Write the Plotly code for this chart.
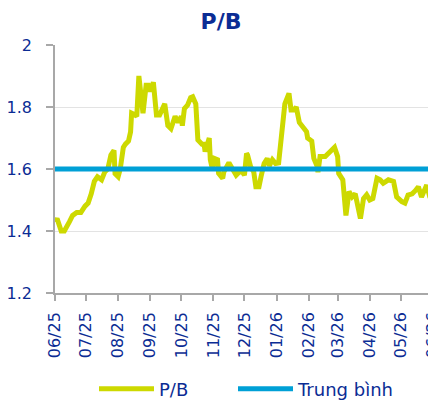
import plotly.graph_objects as go

dates = [
    "2025-06-01", "2025-06-03", "2025-06-07", "2025-06-10", "2025-06-15", "2025-06-18",
    "2025-06-22", "2025-06-26", "2025-06-30", "2025-07-03", "2025-07-06", "2025-07-09",
    "2025-07-12", "2025-07-16", "2025-07-19", "2025-07-22", "2025-07-25", "2025-07-28",
    "2025-07-29", "2025-08-01", "2025-08-03", "2025-08-06", "2025-08-08", "2025-08-11",
    "2025-08-13", "2025-08-14", "2025-08-17", "2025-08-19", "2025-08-21", "2025-08-22",
    "2025-08-25", "2025-08-28", "2025-08-30", "2025-09-01", "2025-09-04", "2025-09-07",
    "2025-09-10", "2025-09-15", "2025-09-18", "2025-09-21", "2025-09-25", "2025-09-28",
    "2025-10-01", "2025-10-02", "2025-10-04", "2025-10-07", "2025-10-10", "2025-10-12",
    "2025-10-15", "2025-10-17", "2025-10-21", "2025-10-23", "2025-10-24", "2025-10-28",
    "2025-10-29", "2025-10-31", "2025-11-02", "2025-11-05", "2025-11-06", "2025-11-10",
    "2025-11-11", "2025-11-16", "2025-11-19", "2025-11-23", "2025-11-26", "2025-11-29",
    "2025-12-01", "2025-12-03", "2025-12-04", "2025-12-07", "2025-12-10", "2025-12-12",
    "2025-12-15", "2025-12-17", "2025-12-20", "2025-12-23", "2025-12-25", "2025-12-28",
    "2025-12-31", "2026-01-03", "2026-01-07", "2026-01-09", "2026-01-13", "2026-01-15",
    "2026-01-18", "2026-01-20", "2026-01-23", "2026-01-26", "2026-01-30", "2026-01-31",
    "2026-02-04", "2026-02-06", "2026-02-09", "2026-02-10", "2026-02-12", "2026-02-17",
    "2026-02-22", "2026-02-26", "2026-03-01", "2026-03-02", "2026-03-06", "2026-03-09",
    "2026-03-12", "2026-03-15", "2026-03-18", "2026-03-23", "2026-03-26", "2026-03-29",
    "2026-04-01", "2026-04-04", "2026-04-08", "2026-04-11", "2026-04-14", "2026-04-19",
    "2026-04-24", "2026-04-27", "2026-05-02", "2026-05-05", "2026-05-08", "2026-05-12",
    "2026-05-15", "2026-05-18", "2026-05-21", "2026-05-26", "2026-05-29", "2026-06-02",
    "2026-06-04",
]

pb_values = [
    1.43, 1.44, 1.40, 1.40, 1.43, 1.45,
    1.46, 1.46, 1.48, 1.49, 1.52, 1.56,
    1.575, 1.565, 1.59, 1.60, 1.645, 1.66,
    1.585, 1.575, 1.60, 1.67, 1.68, 1.69,
    1.72, 1.78, 1.775, 1.77, 1.90, 1.86,
    1.78, 1.87, 1.87, 1.85, 1.88, 1.774,
    1.774, 1.81, 1.74, 1.73, 1.77, 1.75,
    1.77, 1.74, 1.795, 1.806, 1.83, 1.833,
    1.81, 1.694, 1.68, 1.68, 1.656, 1.70,
    1.63, 1.60, 1.634, 1.63, 1.586, 1.57,
    1.59, 1.62, 1.60, 1.58, 1.59, 1.59,
    1.58, 1.65, 1.645, 1.607, 1.59, 1.543,
    1.543, 1.575, 1.618, 1.634, 1.61, 1.63,
    1.618, 1.62, 1.75, 1.81, 1.844, 1.79,
    1.79, 1.80, 1.75, 1.737, 1.72, 1.70,
    1.69, 1.634, 1.61, 1.59, 1.64, 1.64,
    1.656, 1.67, 1.64, 1.586, 1.565, 1.45,
    1.527, 1.51, 1.52, 1.44, 1.505, 1.517,
    1.50, 1.505, 1.57, 1.565, 1.554, 1.565,
    1.56, 1.51, 1.495, 1.49, 1.516, 1.52,
    1.53, 1.543, 1.51, 1.548, 1.51, 1.49,
    1.485,
]

average_value = 1.6
avg_values = [average_value] * len(dates)

x_range = ["2025-06-01", "2026-06-04"]
tick_dates = [
    "2025-06-01", "2025-07-01", "2025-08-01", "2025-09-01", "2025-10-01", "2025-11-01",
    "2025-12-01", "2026-01-01", "2026-02-01", "2026-03-01", "2026-04-01", "2026-05-01",
    "2026-06-01",
]
tick_labels = ["06/25", "07/25", "08/25", "09/25", "10/25", "11/25",
               "12/25", "01/26", "02/26", "03/26", "04/26", "05/26", "06/26"]
y_ticks = [1.2, 1.4, 1.6, 1.8, 2.0]
y_tick_labels = ["1.2", "1.4", "1.6", "1.8", "2"]

TEXT = "#0b2c94"
YELLOW = "#cdd900"
BLUE = "#00a0d6"
FONT = "DejaVu Sans"

W, H = 428, 393

fig = go.Figure()
fig.add_trace(go.Scatter(
    x=dates, y=pb_values, mode="lines", name="P/B",
    line=dict(color=YELLOW, width=5), legend="legend",
))
fig.add_trace(go.Scatter(
    x=dates, y=avg_values, mode="lines", name="Trung bình",
    line=dict(color=BLUE, width=5), legend="legend2",
))

legend_common = dict(orientation="h", xref="container", yref="container",
                     xanchor="left", y=1 - 381 / H, yanchor="middle",
                     font=dict(family=FONT, size=18, color=TEXT),
                     itemwidth=55, bgcolor="rgba(0,0,0,0)")

fig.update_layout(
    width=W, height=H,
    margin=dict(l=47, r=0, t=37, b=108, autoexpand=False),
    paper_bgcolor="white", plot_bgcolor="white",
    font=dict(family=FONT, color=TEXT, size=16),
    title=dict(text="<b>P/B</b>", x=213 / W, xref="container", xanchor="center",
               y=1 - 13 / H, yref="container", yanchor="middle",
               font=dict(family=FONT, size=22, color=TEXT)),
    showlegend=True,
    legend=dict(x=86 / W, **legend_common),
    legend2=dict(x=225 / W, **legend_common),
    xaxis=dict(
        type="date", range=x_range, tickvals=tick_dates, ticktext=tick_labels,
        tickangle=-90, ticklabeloverflow="allow",
        showgrid=False, showline=True, linecolor="#a8a8a8", linewidth=1.5,
        ticks="outside", ticklen=6, tickcolor="#a8a8a8", tickwidth=1.5,
        ticklabelstandoff=5, automargin=False,
        tickfont=dict(family=FONT, size=16, color=TEXT),
    ),
    yaxis=dict(
        range=[1.2, 2.0], tickvals=y_ticks, ticktext=y_tick_labels,
        showgrid=True, gridcolor="#e3e3e3", gridwidth=1,
        showline=True, linecolor="#a8a8a8", linewidth=1.5,
        ticks="outside", ticklen=7, tickcolor="#a8a8a8", tickwidth=1.5,
        ticklabelstandoff=11, automargin=False, zeroline=False,
        tickfont=dict(family=FONT, size=16, color=TEXT),
    ),
)

fig.write_html("out.html")
